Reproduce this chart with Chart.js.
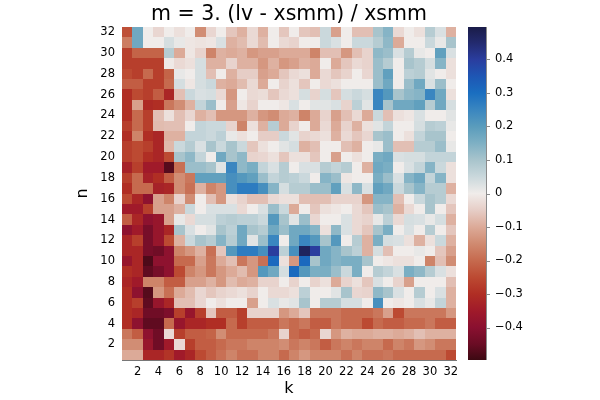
<!DOCTYPE html>
<html><head><meta charset="utf-8">
<script src="https://cdn.jsdelivr.net/npm/chart.js@4/dist/chart.umd.min.js"></script>
<style>html,body{margin:0;padding:0;background:#fff}#wrap{width:600px;height:400px}</style>
</head><body><div id="wrap"><canvas id="c" width="600" height="400"></canvas></div>
<script>
const titleText = 'm = 3. (lv - xsmm) / xsmm';
const kValues = Array.from({length: 32}, (_, i) => i + 1);
const nValues = Array.from({length: 32}, (_, i) => i + 1);
const kTicks = [2,4,6,8,10,12,14,16,18,20,22,24,26,28,30,32];
const nTicks = [2,4,6,8,10,12,14,16,18,20,22,24,26,28,30,32];
const cbTicks = [-0.4,-0.3,-0.2,-0.1,0,0.1,0.2,0.3,0.4];
const colorLimit = 0.497;

// one row per n, values for k = 1..32
const n32 = [-0.24,0.17,0,-0.035,0,-0.02,0,-0.145,-0.035,0,-0.06,-0.09,-0.03,-0.09,0,-0.06,0,-0.06,-0.07,0.05,-0.115,0,-0.07,-0.07,0.10,0.14,-0.03,0,-0.02,0.08,0.03,-0.09];
const n31 = [-0.17,0.17,0,0,0.035,0.01,-0.01,-0.015,-0.01,0.03,-0.09,-0.075,-0.03,-0.075,0,-0.03,-0.04,0,0,0.05,0.03,0,0.05,0.05,0.08,0.13,-0.10,0,0,0.05,0.01,0.10];
const n30 = [-0.27,-0.21,-0.21,-0.21,0.08,-0.10,-0.01,-0.04,-0.16,-0.09,-0.10,-0.09,-0.13,-0.115,-0.115,-0.10,-0.10,-0.10,-0.16,-0.07,-0.07,-0.13,-0.07,-0.04,0.13,0.115,0.03,0.08,0.01,0,0.19,0.03];
const n29 = [-0.27,-0.27,-0.27,-0.27,-0.005,-0.03,-0.02,0.035,-0.09,-0.09,-0.04,-0.09,-0.09,-0.13,-0.09,-0.13,-0.115,-0.09,-0.10,0,-0.10,-0.06,-0.03,-0.04,0.115,0.08,0,0.10,0.08,0.035,0.14,-0.02];
const n28 = [-0.25,-0.27,-0.20,-0.27,-0.21,0.01,0,0.035,-0.07,0,-0.09,-0.05,-0.05,-0.115,-0.10,-0.06,-0.03,-0.02,-0.10,-0.03,-0.06,-0.04,0,-0.035,0.115,0.19,0,0.07,0.08,0.02,0,-0.02];
const n27 = [-0.22,-0.22,-0.27,-0.27,-0.20,0.035,-0.01,0.035,0.05,-0.09,-0.10,-0.075,-0.03,-0.10,0,-0.04,-0.02,-0.06,0,-0.03,-0.02,0,0,0,0.115,0.17,0,0.115,0.17,0.03,0.115,0];
const n26 = [-0.30,-0.25,-0.27,-0.22,-0.32,-0.07,0.05,0.03,0.035,-0.03,-0.13,0,-0.03,-0.025,-0.06,-0.03,-0.02,0.035,-0.04,0.035,-0.06,0.035,0.05,0.035,0.25,0.21,0.10,0.13,0.14,0.25,0.17,-0.02];
const n25 = [-0.30,-0.115,-0.31,-0.30,-0.18,-0.145,-0.09,0.06,0.115,0,-0.115,-0.01,-0.04,0,0,-0.01,0.03,0,0.02,0.02,0.03,-0.04,0.07,0.02,0.25,0.10,0.17,0.17,0.19,0.08,0.17,0.035];
const n24 = [-0.30,-0.20,-0.27,-0.07,-0.02,-0.07,-0.035,-0.09,-0.07,-0.13,-0.13,-0.13,-0.09,-0.13,-0.145,-0.10,-0.09,-0.16,-0.10,-0.04,-0.115,-0.07,-0.03,-0.10,0.05,-0.07,-0.02,-0.01,0.03,0,0,0.02];
const n23 = [-0.27,-0.20,-0.27,-0.075,-0.07,-0.07,0,0.06,0.05,0.05,-0.04,-0.16,-0.02,-0.09,0.08,-0.10,-0.04,0,-0.10,-0.03,-0.10,-0.04,-0.09,-0.02,0.02,0.06,0,0,0.035,0.08,0.07,0.01];
const n22 = [-0.30,-0.16,-0.30,-0.32,-0.09,-0.09,0.06,0.06,0.05,0.07,0.01,-0.02,0,-0.05,-0.05,0.05,0.02,-0.04,-0.03,-0.02,-0.09,-0.03,-0.06,-0.035,0.10,0.115,0,-0.02,0.06,0.10,0.10,0];
const n21 = [-0.27,-0.25,-0.27,-0.32,-0.08,0.05,0.08,0.03,0.10,0.05,0.10,0.05,-0.06,-0.02,0,0.02,0.035,-0.09,-0.07,0,0,-0.07,-0.09,0,0.01,0.115,-0.07,-0.07,0.08,0.08,0.115,0.01];
const n20 = [-0.27,-0.25,-0.30,-0.32,-0.25,0.10,0.13,0.06,0,0.17,0.10,0.13,-0.04,-0.035,-0.02,-0.06,-0.02,-0.02,-0.06,0,-0.115,0,-0.02,0,0.155,0.17,0.03,0.035,0.035,0.06,0.06,0.06];
const n19 = [-0.33,-0.27,-0.35,-0.35,-0.47,-0.19,0.115,0.115,0.10,0.02,0.25,0.13,0.155,0.06,0.03,0.08,0,0.03,0.03,0.08,0.06,0.08,0,-0.09,0.17,0.155,0,0.03,0.06,0.14,0.05,-0.02];
const n18 = [-0.27,-0.20,-0.33,-0.30,-0.22,-0.145,-0.18,0.19,0.19,0.19,0.23,0.21,0.19,0.115,0.06,0.08,0.07,0.05,0,0.14,0.115,-0.01,0,0,0.155,0.115,0.03,0.14,0.17,0.06,0.14,-0.02];
const n17 = [-0.30,-0.20,-0.20,-0.33,-0.32,-0.145,-0.19,-0.09,-0.16,-0.13,0.23,0.27,0.27,0.23,0.14,0.035,0.08,0.08,0.115,0.115,0.19,0.03,0.13,0.03,0.19,0.17,0.05,0.10,0.14,0.08,0.08,-0.09];
const n16 = [-0.25,-0.32,-0.39,-0.115,-0.16,-0.04,-0.145,0,-0.07,-0.13,-0.02,-0.04,-0.07,-0.07,-0.03,-0.02,-0.02,-0.07,-0.07,-0.07,-0.04,-0.04,-0.04,-0.13,0.14,0.14,-0.07,0,0.05,0.10,0.08,-0.03];
const n15 = [-0.35,-0.35,-0.27,-0.115,-0.115,-0.09,0.05,0,0.03,0.03,0.03,-0.03,0,0.03,0.115,0.05,-0.10,0,-0.06,-0.02,-0.01,0,-0.03,-0.06,0.115,0.10,-0.09,-0.03,0,0.10,0,-0.06];
const n14 = [-0.22,-0.32,-0.39,-0.37,-0.115,0.01,-0.03,0.035,0.035,0.07,0.08,0.07,0.07,0.05,0.21,0.10,0.02,0.115,-0.035,0,0,0.03,-0.03,-0.04,0.01,0.07,-0.03,0.035,0.03,0.01,0.035,-0.09];
const n13 = [-0.39,-0.35,-0.43,-0.37,-0.32,0.10,0.03,0,0.02,0.10,0.07,0.17,0.10,0.08,0.17,0.115,0.17,0.17,0.14,-0.02,0.13,0.03,-0.03,-0.06,0.10,0.155,0,0.03,0,0.08,0,-0.06];
const n12 = [-0.32,-0.27,-0.43,-0.37,-0.25,-0.09,0.05,0.10,0.08,0.14,0.08,0.17,0.02,0.115,0.25,0,0.17,0.25,0.21,0.10,0.21,0,0.08,-0.09,0.155,0.035,0.03,-0.02,-0.09,-0.02,0.05,-0.09];
const n11 = [-0.32,-0.32,-0.43,-0.44,-0.39,-0.16,-0.13,-0.09,-0.19,-0.06,0.21,0.27,0.27,0.23,0.40,0.07,0.23,0.47,0.40,0.17,0.14,0.10,0.07,-0.09,0.035,-0.07,0,0,0.01,0,-0.06,-0.115];
const n10 = [-0.37,-0.32,-0.48,-0.39,-0.39,-0.20,-0.20,-0.115,-0.18,-0.10,-0.07,-0.18,-0.13,-0.19,0.31,-0.02,-0.13,0.31,0.10,0.17,0.14,0.155,0.155,0.10,0,-0.01,-0.02,-0.02,0,-0.16,-0.07,-0.145];
const n09 = [-0.30,-0.32,-0.46,-0.43,-0.39,-0.25,-0.16,-0.13,-0.18,-0.13,-0.10,-0.075,-0.13,0.21,0.17,0.035,0.31,0.21,0.155,0.155,0.115,0.05,0.155,0,0.08,0.06,0.03,0.155,0.13,0.08,0.03,-0.02];
const n08 = [-0.32,-0.35,-0.16,-0.16,-0.22,-0.22,-0.115,-0.115,-0.09,-0.13,-0.075,-0.10,-0.09,-0.04,-0.04,0,-0.04,0,-0.04,-0.02,-0.10,-0.04,-0.02,-0.06,0.03,0,-0.04,-0.115,0,0,0,-0.07];
const n07 = [-0.30,-0.39,-0.47,-0.13,-0.19,-0.10,-0.075,-0.035,-0.06,-0.04,-0.03,-0.02,-0.04,0,-0.03,-0.03,-0.02,0.07,0,0,0.02,0.10,-0.035,-0.04,0.13,0.10,0.03,0,0.08,0,0.03,-0.09];
const n06 = [-0.30,-0.27,-0.46,-0.37,-0.32,-0.07,-0.07,-0.035,0,-0.02,0,0,-0.115,0,0.03,0.01,0.02,0.10,0,0.08,0.08,0.035,0.035,0,0.23,0,-0.01,0,0.03,0.01,0.06,-0.09];
const n05 = [-0.30,-0.32,-0.44,-0.44,-0.42,-0.27,-0.37,-0.27,-0.06,-0.22,-0.22,-0.27,-0.04,-0.04,-0.04,-0.13,-0.10,-0.06,-0.18,-0.18,-0.18,-0.20,-0.20,-0.20,-0.18,-0.115,-0.25,-0.18,-0.18,-0.18,-0.18,-0.13];
const n04 = [-0.30,-0.39,-0.46,-0.46,-0.20,-0.37,-0.32,-0.32,-0.30,-0.30,-0.20,-0.27,-0.22,-0.22,-0.22,-0.18,-0.20,-0.18,-0.22,-0.22,-0.18,-0.20,-0.20,-0.25,-0.20,-0.22,-0.22,-0.20,-0.20,-0.18,-0.22,-0.22];
const n03 = [-0.18,-0.22,-0.39,-0.44,-0.03,-0.27,-0.22,-0.22,-0.21,-0.145,-0.20,-0.20,-0.20,-0.20,-0.18,-0.04,-0.20,-0.22,-0.20,-0.035,-0.13,-0.09,-0.10,-0.10,-0.09,-0.09,-0.10,-0.09,-0.07,-0.09,-0.09,-0.09];
const n02 = [-0.145,-0.145,-0.37,-0.44,-0.35,-0.03,-0.27,-0.22,-0.22,-0.20,-0.18,-0.18,-0.16,-0.16,-0.16,-0.145,-0.18,-0.16,-0.18,-0.22,-0.18,-0.16,-0.18,-0.16,-0.16,-0.20,-0.16,-0.18,-0.13,-0.145,-0.18,-0.18];
const n01 = [-0.10,-0.10,-0.32,-0.32,-0.29,-0.35,-0.32,-0.25,-0.22,-0.19,-0.16,-0.19,-0.19,-0.16,-0.16,-0.20,-0.16,-0.13,-0.16,-0.16,-0.16,-0.19,-0.16,-0.19,-0.19,-0.18,-0.20,-0.20,-0.20,-0.20,-0.20,-0.25];
const rowsByN = [n01,n02,n03,n04,n05,n06,n07,n08,n09,n10,n11,n12,n13,n14,n15,n16,n17,n18,n19,n20,n21,n22,n23,n24,n25,n26,n27,n28,n29,n30,n31,n32];

// colour map (balance, reversed: negative red, positive blue)
const cmapStops = [
  [-0.497,'#3c0912'],[-0.45,'#6a0c24'],[-0.4,'#8a1030'],[-0.35,'#a01a2a'],[-0.3,'#b02e24'],
  [-0.25,'#bc4a32'],[-0.2,'#c66a4e'],[-0.15,'#d08a70'],[-0.1,'#dcaa98'],[-0.05,'#e6cdc6'],
  [0,'#f0ecea'],[0.05,'#cad8dc'],[0.1,'#a8c4cc'],[0.15,'#7eb0c4'],[0.2,'#5a9cbc'],
  [0.25,'#3a86c0'],[0.3,'#1a6ec0'],[0.35,'#1e56b4'],[0.4,'#2a3d9e'],[0.45,'#232a6e'],[0.497,'#1a1c48']
];
function hexRgb(h){return [parseInt(h.slice(1,3),16),parseInt(h.slice(3,5),16),parseInt(h.slice(5,7),16)];}
function colorFor(v){
  v = Math.max(-colorLimit, Math.min(colorLimit, v));
  for (let i = 0; i < cmapStops.length - 1; i++) {
    const [a, ca] = cmapStops[i], [b, cb] = cmapStops[i+1];
    if (v >= a && v <= b) {
      const t = (v - a) / (b - a), A = hexRgb(ca), B = hexRgb(cb);
      return 'rgb(' + A.map((x, j) => Math.round(x + (B[j] - x) * t)).join(',') + ')';
    }
  }
  return cmapStops[cmapStops.length-1][1];
}

const points = [];
nValues.forEach((n, i) => kValues.forEach((k, j) => points.push({x: k, y: n, v: rowsByN[i][j]})));

const FONT = 'DejaVu Sans';

const heatPlugin = {
  id: 'heat',
  beforeDatasetsDraw(chart) {
    const {ctx, scales: {x, y}} = chart;
    ctx.save();
    for (const p of chart.data.datasets[0].data) {
      const x0 = Math.round(x.getPixelForValue(p.x - 0.5)), x1 = Math.round(x.getPixelForValue(p.x + 0.5));
      const y0 = Math.round(y.getPixelForValue(p.y + 0.5)), y1 = Math.round(y.getPixelForValue(p.y - 0.5));
      ctx.fillStyle = colorFor(p.v);
      ctx.fillRect(x0, y0, x1 - x0, y1 - y0);
    }
    ctx.restore();
  },
  afterDraw(chart) {
    const {ctx, chartArea} = chart;
    // title, centred over the heatmap
    ctx.save();
    ctx.fillStyle = '#000';
    ctx.font = '20.5px "' + FONT + '"';
    ctx.textAlign = 'center';
    ctx.textBaseline = 'alphabetic';
    ctx.fillText(titleText, (chartArea.left + chartArea.right) / 2, 19.5);
    ctx.restore();
    // colour bar
    const cb = chart.scales.cb;
    const left = cb.left + 12, right = cb.left + 30;
    const top = cb.getPixelForValue(colorLimit), bottom = cb.getPixelForValue(-colorLimit);
    const g = ctx.createLinearGradient(0, bottom, 0, top);
    for (const [v, c] of cmapStops) g.addColorStop((v + colorLimit) / (2 * colorLimit), c);
    ctx.save();
    ctx.fillStyle = g;
    ctx.fillRect(left, top, right - left, bottom - top);
    ctx.strokeStyle = '#8a8a8a';
    ctx.lineWidth = 1;
    ctx.beginPath();
    ctx.moveTo(right + 0.5, top); ctx.lineTo(right + 0.5, bottom);
    for (const t of cbTicks) {
      const yy = Math.round(cb.getPixelForValue(t)) + 0.5;
      ctx.moveTo(right, yy); ctx.lineTo(right + 4, yy);
    }
    ctx.stroke();
    ctx.restore();
  }
};

new Chart(document.getElementById('c'), {
  type: 'scatter',
  data: {datasets: [{data: points, pointRadius: 0, pointHoverRadius: 0, showLine: false}]},
  options: {
    responsive: false, animation: false, devicePixelRatio: 1,
    layout: {padding: {top: 27, left: 0, right: 0, bottom: 0}},
    plugins: {legend: {display: false}, tooltip: {enabled: false}, title: {display: false}},
    scales: {
      x: {
        type: 'linear', position: 'bottom', min: 0.5, max: 32.5, z: 1,
        afterBuildTicks: s => { s.ticks = kTicks.map(v => ({value: v})); },
        afterFit: s => { s.height = 40; },
        ticks: {color: '#000', font: {family: FONT, size: 11.5}, padding: 5, maxRotation: 0, autoSkip: false,
          callback: v => String(v)},
        grid: {display: false, drawTicks: false},
        border: {display: true, color: '#777', width: 1},
        title: {display: true, text: 'k', color: '#000', font: {family: FONT, size: 16}, padding: {top: 0, bottom: 2}}
      },
      y: {
        type: 'linear', position: 'left', min: 0.5, max: 32.5, z: 1,
        afterBuildTicks: s => { s.ticks = nTicks.map(v => ({value: v})); },
        afterFit: s => { s.width = 122; },
        ticks: {color: '#000', font: {family: FONT, size: 11.5}, padding: 7, autoSkip: false,
          callback: v => String(v)},
        grid: {display: false, drawTicks: false},
        border: {display: true, color: '#777', width: 1},
        title: {display: true, text: 'n', color: '#000', font: {family: FONT, size: 16}, padding: {top: 73}}
      },
      cb: {
        type: 'linear', position: 'right', min: -colorLimit, max: colorLimit, display: true,
        afterBuildTicks: s => { s.ticks = cbTicks.map(v => ({value: v})); },
        afterFit: s => { s.width = 144; },
        ticks: {color: '#000', font: {family: FONT, size: 11.5}, padding: 0, autoSkip: false,
          callback: v => (Math.abs(v) < 1e-9 ? '0' : (v < 0 ? '\u2212' : '') + Math.abs(v).toFixed(1))},
        grid: {display: false, drawTicks: true, tickLength: 39},
        border: {display: false}
      }
    }
  },
  plugins: [heatPlugin]
});
</script>
</body></html>
